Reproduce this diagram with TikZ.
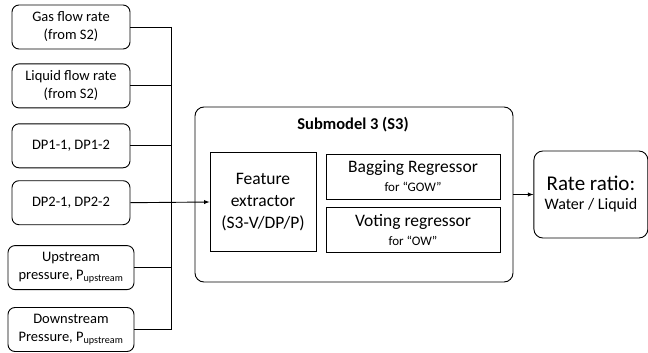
\documentclass[tikz,border=0pt]{standalone}
\usepackage{fontspec}
\setmainfont{Carlito}
\usetikzlibrary{positioning}

\begin{document}
\begin{tikzpicture}[x=1pt,y=-1pt,
    node distance=14pt,
    inbox/.style={draw,line width=0.9pt,rounded corners=7pt,align=center,
                  minimum width=#1,minimum height=44pt,inner sep=2pt,
                  font=\fontsize{14.5}{18}\selectfont},
    inbox/.default=118pt,
    regbox/.style={draw,line width=0.9pt,align=center,inner sep=2pt,
                   font=\fontsize{17.5}{20}\selectfont}
    ]
    \useasboundingbox (0,0) rectangle (648,353);
    %%% Ingangen
    \node[inbox] at (71,27) (gas_flow) {Gas flow rate\\(from S2)};
    \node[inbox,below=14pt of gas_flow] (liq_flow) {Liquid flow rate\\(from S2)};
    \node[inbox,below=15pt of liq_flow] (dp_one) {DP1-1, DP1-2};
    \node[inbox,below=12pt of dp_one] (dp_two) {DP2-1, DP2-2};
    \node[inbox=126pt,below=20pt of dp_two] (up_press) {Upstream\\pressure, P\textsubscript{upstream}};
    \node[inbox=126pt,below=17pt of up_press] (down_press) {Downstream\\Pressure, P\textsubscript{upstream}};
    \coordinate (bus) at (171,0);
    %%% Submodel 3
    \node[draw,line width=0.9pt,rounded corners=9pt,minimum width=318pt,minimum height=175pt] at (354,194.5) (submodel) {};
    \node[font=\fontsize{16.5}{18}\selectfont\bfseries] at (353,125) (sub_title) {Submodel 3 (S3)};
    \node[regbox,minimum width=106pt,minimum height=99pt,font=\fontsize{17.5}{22}\selectfont] at (263,202) (feat_extr) {Feature\\extractor\\(S3-V/DP/P)};
    \node[regbox,minimum width=174pt,minimum height=45pt] at (413,176.5) (bagging) {Bagging Regressor\\[-1pt]{\fontsize{13}{15}\selectfont for ``GOW''}};
    \node[regbox,minimum width=174pt,minimum height=45pt,below=8pt of bagging] (voting) {Voting regressor\\[-1pt]{\fontsize{13}{15}\selectfont for ``OW''}};
    %%% Uitgang
    \node[inbox=114pt,minimum height=87pt,rounded corners=9pt,right=20pt of submodel,font=\fontsize{21}{21}\selectfont] (rate_ratio) {Rate ratio:\\[-2pt]{\fontsize{16}{18}\selectfont Water / Liquid}};
    \path[draw,line width=0.9pt]
        (gas_flow.east) -- (gas_flow.east -| bus)
        (liq_flow.east) -- (liq_flow.east -| bus)
        (dp_one.east) -- (dp_one.east -| bus)
        (up_press.east) -- (up_press.east -| bus)
        (down_press.east) -- (down_press.east -| bus)
        (gas_flow.east -| bus) -- (down_press.east -| bus);
    \draw[line width=0.9pt,->,>=latex] (dp_two.east) -- (feat_extr.west);
    \draw[line width=0.9pt,->,>=latex] (submodel.east) -- (rate_ratio.west);
\end{tikzpicture}
\end{document}
